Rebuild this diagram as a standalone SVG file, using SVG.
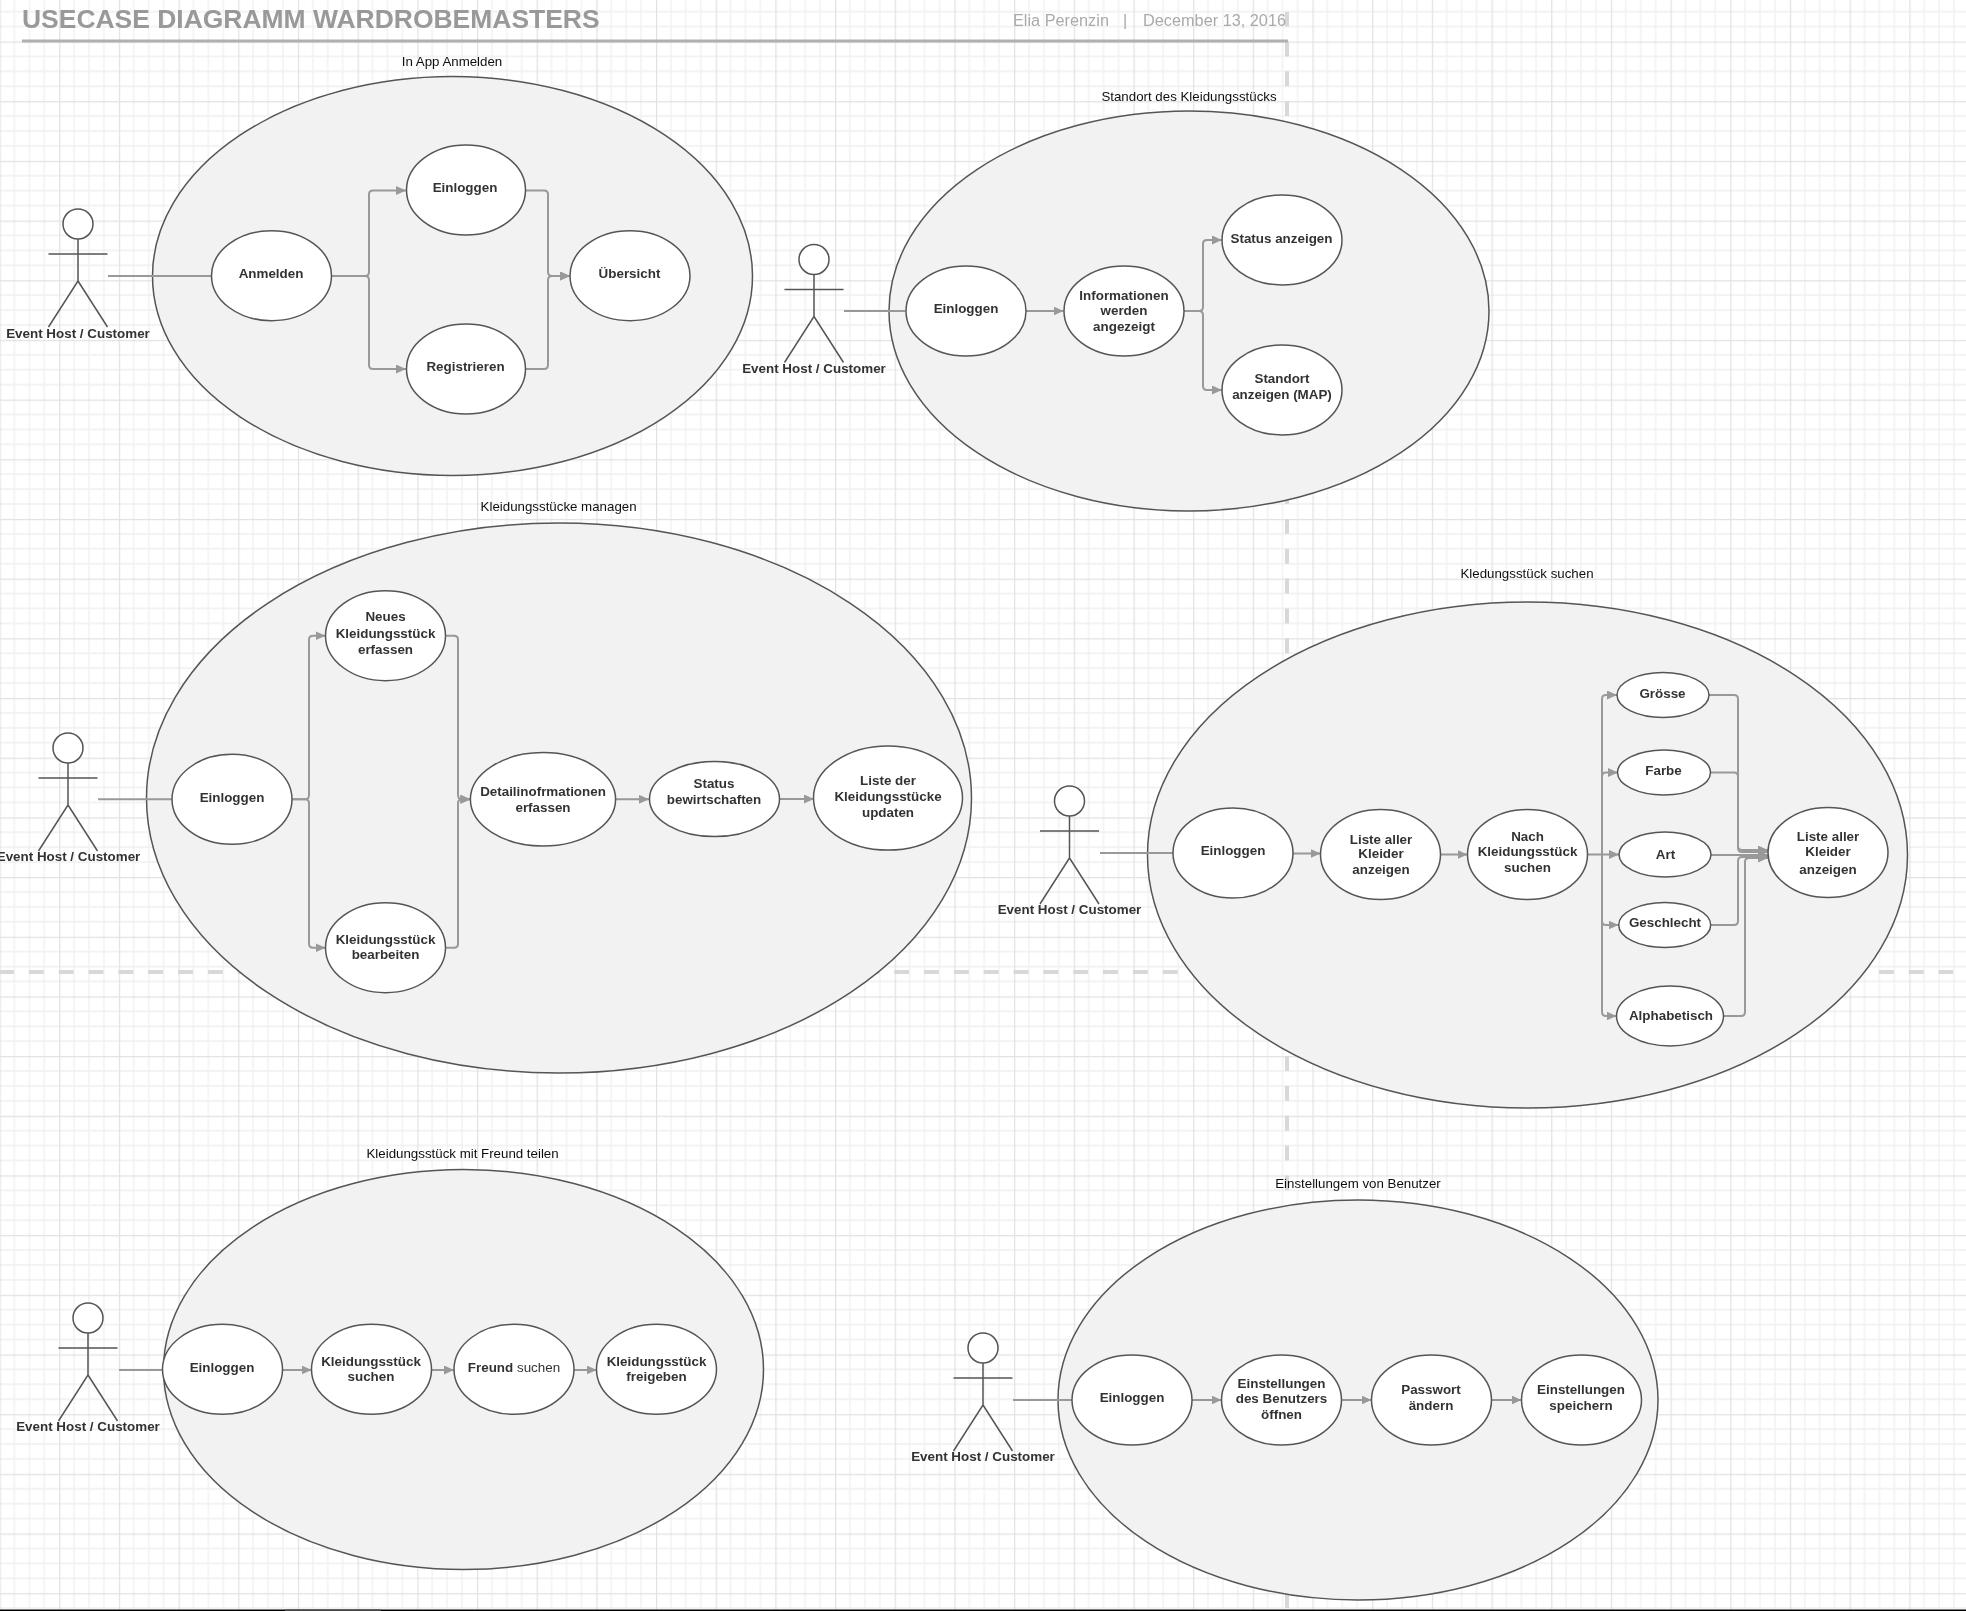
<svg xmlns="http://www.w3.org/2000/svg" width="1966" height="1611" viewBox="0 0 1966 1611">
<style>
text{font-family:"Liberation Sans",Arial,sans-serif}
.n{font-size:13.4px;font-weight:700;fill:#333;text-anchor:middle}
.r{font-weight:400}
.a{font-size:13.4px;font-weight:700;fill:#333;text-anchor:middle}
.t{font-size:13.3px;fill:#111;text-anchor:middle}
.box{fill:#f2f2f2;stroke:#555;stroke-width:1.5}
.u{fill:#fff;stroke:#555;stroke-width:1.5}
.fig{fill:#fff;stroke:#555;stroke-width:1.5}
.lim{fill:none;stroke:#555;stroke-width:1.5}
.c{fill:none;stroke:#999;stroke-width:2}
.m{marker-end:url(#arr)}
.dash{fill:none;stroke:#d8d8d8;stroke-width:4;stroke-dasharray:14.92 14.92}
.meta{font-size:16.3px;fill:#aaa}
</style>
<defs>
<filter id="soft" filterUnits="userSpaceOnUse" x="0" y="0" width="1966" height="1611"><feGaussianBlur stdDeviation="0.55"/></filter>
<marker id="arr" markerUnits="userSpaceOnUse" markerWidth="11" markerHeight="10" refX="10" refY="4.5" orient="auto"><path d="M0 0L10 4.5L0 9Z" fill="#999"/></marker>
<pattern id="grid" patternUnits="userSpaceOnUse" x="-0.5" y="41.5" width="59.68" height="59.68">
<path d="M14.92 0V59.68M29.84 0V59.68M44.76 0V59.68M0 14.92H59.68M0 29.84H59.68M0 44.76H59.68" fill="none" stroke="#f0f0f0" stroke-width="1.3"/>
<path d="M0.6 0V59.68M0 0.6H59.68" fill="none" stroke="#e2e2e2" stroke-width="1.3"/>
</pattern>
<g id="fig"><ellipse class="fig" cx="0" cy="0" rx="15" ry="15"/><path class="lim" d="M-29.5 30H29.5M0 15V57L-29.5 103M0 57L29.5 103"/></g>
</defs>
<rect width="1966" height="1611" fill="#fff"/>
<g id="page" filter="url(#soft)">
<rect width="1966" height="1611" fill="url(#grid)"/>
<g id="page-edges">
<path class="dash" d="M1287 11.660V1611"/>
<path class="dash" d="M-1 972H1953"/>
</g>
<g id="header">
<text x="22" y="28" font-size="26.460" font-weight="700" fill="#999">USECASE DIAGRAMM WARDROBEMASTERS</text>
<text class="meta" x="1013" y="26">Elia Perenzin</text>
<text class="meta" x="1123" y="26">|</text>
<text class="meta" x="1143" y="26">December 13, 2016</text>
<path d="M22 41H1288" fill="none" stroke="#b0b0b0" stroke-width="3"/>
</g>
<g id="containers">
<g id="box-anmelden"><ellipse class="box" cx="452.500" cy="276" rx="300" ry="199.500"/><text class="t" x="452" y="66">In App Anmelden</text></g>
<g id="box-standort"><ellipse class="box" cx="1189" cy="311" rx="300" ry="200"/><text class="t" x="1189" y="101">Standort des Kleidungsstücks</text></g>
<g id="box-managen"><ellipse class="box" cx="559" cy="798" rx="412.500" ry="275"/><text class="t" x="558.600" y="511">Kleidungsstücke managen</text></g>
<g id="box-suchen"><ellipse class="box" cx="1527.500" cy="855" rx="380" ry="253"/><text class="t" x="1527" y="578">Kledungsstück suchen</text></g>
<g id="box-teilen"><ellipse class="box" cx="463.500" cy="1369.500" rx="300" ry="200"/><text class="t" x="462.600" y="1158">Kleidungsstück mit Freund teilen</text></g>
<g id="box-einstellungen"><ellipse class="box" cx="1358" cy="1400" rx="300" ry="200"/><text class="t" x="1358" y="1188">Einstellungem von Benutzer</text></g>
</g>
<g id="connectors">
<path class="c" d="M108 276H212"/>
<path class="c m" d="M332 276H365Q369 276 369 272V194.500Q369 190.500 373 190.500H406"/>
<path class="c m" d="M332 276H365Q369 276 369 280V365Q369 369 373 369H406"/>
<path class="c m" d="M526 190.500H544Q548 190.500 548 194.500V272Q548 276 552 276H570"/>
<path class="c m" d="M526 369H544Q548 369 548 365V280Q548 276 552 276H570"/>

<path class="c" d="M844 311H905.500"/>
<path class="c m" d="M1025.500 311H1063.500"/>
<path class="c m" d="M1183.500 311H1199Q1203 311 1203 307V244Q1203 240 1207 240H1222"/>
<path class="c m" d="M1183.500 311H1199Q1203 311 1203 315V386Q1203 390 1207 390H1222"/>

<path class="c" d="M98 799.300H172"/>
<path class="c m" d="M292 799.300H305Q309 799.300 309 795.300V639.700Q309 635.700 313 635.700H325.500"/>
<path class="c m" d="M292 799.300H305Q309 799.300 309 803.300V943.700Q309 947.700 313 947.700H325.500"/>
<path class="c m" d="M445.500 635.700H454Q458 635.700 458 639.700V795.300Q458 799.300 462 799.300H470.400"/>
<path class="c m" d="M445.500 947.700H454Q458 947.700 458 943.700V803.300Q458 799.300 462 799.300H470.400"/>
<path class="c m" d="M615.600 799.300H649"/>
<path class="c m" d="M779 799H814"/>

<path class="c" d="M1100 853H1173"/>
<path class="c m" d="M1293 853.500H1320.500"/>
<path class="c m" d="M1440.500 854.500H1467.500"/>
<path class="c m" d="M1587.500 854.500H1619"/>
<path class="c m" d="M1602 854.500V699Q1602 695 1606 695H1617"/>
<path class="c m" d="M1602 854.500V776.500Q1602 772.500 1606 772.500H1618"/>
<path class="c m" d="M1602 854.500V921Q1602 925 1606 925H1618.500"/>
<path class="c m" d="M1602 854.500V1012Q1602 1016 1606 1016H1616.500"/>
<path class="c m" d="M1709 695H1734Q1738 695 1738 699V846Q1738 850 1742 850H1768"/>
<path class="c m" d="M1710.700 772.500H1734Q1738 772.500 1738 776.500V848Q1738 852 1742 852H1768"/>
<path class="c m" d="M1710.700 855H1768"/>
<path class="c m" d="M1710.500 925H1734Q1738 925 1738 921V861Q1738 857 1742 857H1768"/>
<path class="c m" d="M1723.500 1016H1741Q1745 1016 1745 1012V862Q1745 858 1749 858H1768"/>

<path class="c" d="M119 1370H163"/>
<path class="c m" d="M282.500 1370H311.700"/>
<path class="c m" d="M431.700 1370H454"/>
<path class="c m" d="M574 1370H596.700"/>

<path class="c" d="M1013 1400H1072"/>
<path class="c m" d="M1192 1400H1221.500"/>
<path class="c m" d="M1341.500 1400H1371.500"/>
<path class="c m" d="M1491.500 1400H1521.500"/>
</g>
<g id="actor-1"><use href="#fig" x="78" y="224"/><text class="a" x="78" y="337.500">Event Host / Customer</text></g>
<g id="actor-2"><use href="#fig" x="814" y="259.500"/><text class="a" x="814" y="372.800">Event Host / Customer</text></g>
<g id="actor-3"><use href="#fig" x="68" y="748"/><text class="a" x="68.500" y="861">Event Host / Customer</text></g>
<g id="actor-4"><use href="#fig" x="1069.500" y="801"/><text class="a" x="1069.500" y="913.500">Event Host / Customer</text></g>
<g id="actor-5"><use href="#fig" x="88" y="1318"/><text class="a" x="88" y="1431">Event Host / Customer</text></g>
<g id="actor-6"><use href="#fig" x="983" y="1348"/><text class="a" x="983" y="1461">Event Host / Customer</text></g>

<g id="uc-anmelden"><ellipse class="u" cx="271.500" cy="275.700" rx="60" ry="45"/><text class="n" x="271" y="278">Anmelden</text></g>
<g id="uc-einloggen-1"><ellipse class="u" cx="466" cy="190" rx="59.500" ry="45"/><text class="n" x="465" y="191.500">Einloggen</text></g>
<g id="uc-registrieren"><ellipse class="u" cx="466" cy="369" rx="59.500" ry="45"/><text class="n" x="465.500" y="370.500">Registrieren</text></g>
<g id="uc-uebersicht"><ellipse class="u" cx="630" cy="275.700" rx="60" ry="45"/><text class="n" x="629.500" y="278">Übersicht</text></g>

<g id="uc-einloggen-2"><ellipse class="u" cx="966" cy="311" rx="60" ry="45"/><text class="n" x="966" y="313">Einloggen</text></g>
<g id="uc-informationen"><ellipse class="u" cx="1124" cy="311" rx="60" ry="45"/><text class="n"><tspan x="1124" y="299.500">Informationen</tspan><tspan x="1124" y="314.500">werden</tspan><tspan x="1124" y="330.500">angezeigt</tspan></text></g>
<g id="uc-status"><ellipse class="u" cx="1282" cy="240" rx="60" ry="45"/><text class="n" x="1281.500" y="242.500">Status anzeigen</text></g>
<g id="uc-standort"><ellipse class="u" cx="1282" cy="390" rx="60" ry="45"/><text class="n"><tspan x="1282" y="382.500">Standort</tspan><tspan x="1282" y="399">anzeigen (MAP)</tspan></text></g>

<g id="uc-einloggen-3"><ellipse class="u" cx="232" cy="799.300" rx="60" ry="45"/><text class="n" x="232" y="802">Einloggen</text></g>
<g id="uc-neues"><ellipse class="u" cx="385.500" cy="635.700" rx="60" ry="45"/><text class="n"><tspan x="385.500" y="621">Neues</tspan><tspan x="385.500" y="637.700">Kleidungsstück</tspan><tspan x="385.500" y="654">erfassen</tspan></text></g>
<g id="uc-bearbeiten"><ellipse class="u" cx="385.500" cy="947.700" rx="60" ry="45"/><text class="n"><tspan x="385.500" y="943.500">Kleidungsstück</tspan><tspan x="385.500" y="958.500">bearbeiten</tspan></text></g>
<g id="uc-detail"><ellipse class="u" cx="543" cy="799.300" rx="72.600" ry="46.700"/><text class="n"><tspan x="543" y="796">Detailinofrmationen</tspan><tspan x="543" y="812.300">erfassen</tspan></text></g>
<g id="uc-bewirtschaften"><ellipse class="u" cx="714.500" cy="799" rx="65" ry="37.600"/><text class="n"><tspan x="714" y="788">Status</tspan><tspan x="714" y="804">bewirtschaften</tspan></text></g>
<g id="uc-liste-updaten"><ellipse class="u" cx="888" cy="798" rx="74.500" ry="52"/><text class="n"><tspan x="888" y="785">Liste der</tspan><tspan x="888" y="801">Kleidungsstücke</tspan><tspan x="888" y="817">updaten</tspan></text></g>

<g id="uc-einloggen-4"><ellipse class="u" cx="1233" cy="853" rx="60" ry="45"/><text class="n" x="1233" y="854.500">Einloggen</text></g>
<g id="uc-liste-1"><ellipse class="u" cx="1380.500" cy="854.500" rx="60" ry="45"/><text class="n"><tspan x="1381" y="843.500">Liste aller</tspan><tspan x="1381" y="858">Kleider</tspan><tspan x="1381" y="874">anzeigen</tspan></text></g>
<g id="uc-nach"><ellipse class="u" cx="1527.500" cy="854.500" rx="60" ry="45"/><text class="n"><tspan x="1527.500" y="840.500">Nach</tspan><tspan x="1527.500" y="855.500">Kleidungsstück</tspan><tspan x="1527.500" y="872">suchen</tspan></text></g>
<g id="uc-groesse"><ellipse class="u" cx="1663" cy="695" rx="46" ry="22.500"/><text class="n" x="1662.500" y="697.500">Grösse</text></g>
<g id="uc-farbe"><ellipse class="u" cx="1664" cy="772.500" rx="46.500" ry="22.500"/><text class="n" x="1663.500" y="775">Farbe</text></g>
<g id="uc-art"><ellipse class="u" cx="1665" cy="854.500" rx="46" ry="22.500"/><text class="n" x="1665.500" y="859">Art</text></g>
<g id="uc-geschlecht"><ellipse class="u" cx="1664.700" cy="925" rx="46" ry="22.500"/><text class="n" x="1665" y="927.400">Geschlecht</text></g>
<g id="uc-alphabetisch"><ellipse class="u" cx="1670" cy="1016" rx="53.500" ry="30"/><text class="n" x="1671" y="1019.500">Alphabetisch</text></g>
<g id="uc-liste-2"><ellipse class="u" cx="1828" cy="852.500" rx="60" ry="45"/><text class="n"><tspan x="1828" y="841">Liste aller</tspan><tspan x="1828" y="856">Kleider</tspan><tspan x="1828" y="874">anzeigen</tspan></text></g>

<g id="uc-einloggen-5"><ellipse class="u" cx="222.500" cy="1369.300" rx="60" ry="45"/><text class="n" x="222" y="1372">Einloggen</text></g>
<g id="uc-suchen"><ellipse class="u" cx="371.500" cy="1369.300" rx="60" ry="45"/><text class="n"><tspan x="371" y="1366">Kleidungsstück</tspan><tspan x="371" y="1381">suchen</tspan></text></g>
<g id="uc-freund"><ellipse class="u" cx="514" cy="1369.300" rx="60" ry="45"/><text class="n" x="514" y="1372">Freund <tspan class="r">suchen</tspan></text></g>
<g id="uc-freigeben"><ellipse class="u" cx="656.500" cy="1369.300" rx="60" ry="45"/><text class="n"><tspan x="656.500" y="1366">Kleidungsstück</tspan><tspan x="656.500" y="1381">freigeben</tspan></text></g>

<g id="uc-einloggen-6"><ellipse class="u" cx="1132" cy="1400" rx="60" ry="45"/><text class="n" x="1132" y="1401.500">Einloggen</text></g>
<g id="uc-einstellungen"><ellipse class="u" cx="1281.500" cy="1400" rx="60" ry="45"/><text class="n"><tspan x="1281.500" y="1388">Einstellungen</tspan><tspan x="1281.500" y="1403">des Benutzers</tspan><tspan x="1281.500" y="1419">öffnen</tspan></text></g>
<g id="uc-passwort"><ellipse class="u" cx="1431.500" cy="1400" rx="60" ry="45"/><text class="n"><tspan x="1431" y="1394">Passwort</tspan><tspan x="1431" y="1409.500">ändern</tspan></text></g>
<g id="uc-speichern"><ellipse class="u" cx="1581.500" cy="1400" rx="60" ry="45"/><text class="n"><tspan x="1581" y="1394">Einstellungen</tspan><tspan x="1581" y="1409.500">speichern</tspan></text></g>
</g>
<g id="screen-edge"><rect x="0" y="1609.500" width="1966" height="1.500" fill="#000"/><rect x="285" y="1609.500" width="96" height="1.500" fill="#444"/></g>
</svg>
